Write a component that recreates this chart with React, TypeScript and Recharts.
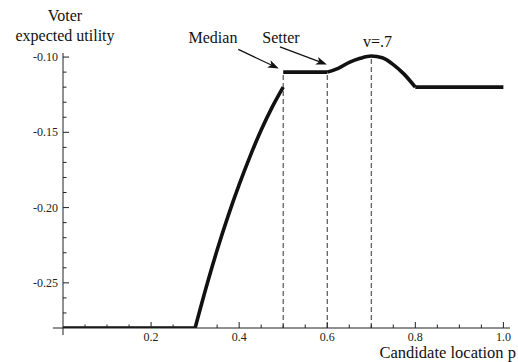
import React from 'react';
import { LineChart, Line, XAxis, YAxis, ReferenceLine, ReferenceDot } from 'recharts';

// ---- data ----
const lowFlatX = [0, 0.3];
const lowFlatY = [-0.28, -0.28];
const riseX = [0.3, 0.325, 0.35, 0.375, 0.4, 0.425, 0.45, 0.475, 0.5];
const riseY = [-0.28, -0.2531, -0.2282, -0.2055, -0.1848, -0.1658, -0.1485, -0.1333, -0.12];
const plateauX = [0.5, 0.6];
const plateauY = [-0.11, -0.11];
const bumpX = [0.6, 0.625, 0.65, 0.675, 0.7, 0.725, 0.75, 0.775, 0.8];
const bumpY = [-0.11, -0.1075, -0.1035, -0.1008, -0.0993, -0.1005, -0.105, -0.1115, -0.12];
const highFlatX = [0.8, 1.0];
const highFlatY = [-0.12, -0.12];

const guideX = [0.5, 0.6, 0.7];
const guideTop = [-0.11, -0.11, -0.0993];

const xMajorTicks = [0.2, 0.4, 0.6, 0.8, 1.0];
const xMajorLabels = ['0.2', '0.4', '0.6', '0.8', '1.0'];
const xMinorTicks = [0.05, 0.1, 0.15, 0.25, 0.3, 0.35, 0.45, 0.5, 0.55, 0.65, 0.7, 0.75, 0.85, 0.9, 0.95];
const yMajorTicks = [-0.25, -0.2, -0.15, -0.1];
const yMajorLabels = ['-0.25', '-0.20', '-0.15', '-0.10'];
const yMinorTicks = [-0.27, -0.26, -0.24, -0.23, -0.22, -0.21, -0.19, -0.18, -0.17, -0.16, -0.14, -0.13, -0.12, -0.11];

const annotationTexts = ['Median', 'Setter', 'v=.7'];
const annotationAt = [
  { x: 0.3405, y: -0.0907 },
  { x: 0.4949, y: -0.0907 },
  { x: 0.7139, y: -0.0932 },
];
const arrowSegments = [
  [{ x: 0.398, y: -0.0949 }, { x: 0.49, y: -0.1076 }],
  [{ x: 0.4926, y: -0.0932 }, { x: 0.5993, y: -0.105 }],
];

const X_DOMAIN: [number, number] = [0, 1.015];
const Y_DOMAIN: [number, number] = [-0.28, -0.0973];

const zip = (xs: number[], ys: number[]) => xs.map((x, i) => ({ x, y: ys[i] }));

const FONT = "'Liberation Serif', 'Times New Roman', serif";
const near = (a: number, b: number) => Math.abs(a - b) < 1e-9;

const XTick = (props: any) => {
  const { x, y, payload } = props;
  const v = payload.value as number;
  const mi = xMajorTicks.findIndex((t) => near(t, v));
  const major = mi >= 0;
  return (
    <g>
      <line x1={x} x2={x} y1={y} y2={y - (major ? 6 : 3.5)} stroke="#222" strokeWidth={1} />
      {major && (
        <text x={x} y={y + 13} textAnchor="middle" fontFamily={FONT} fontSize={12} fill="#222">
          {xMajorLabels[mi]}
        </text>
      )}
    </g>
  );
};

const YTick = (props: any) => {
  const { x, y, payload } = props;
  const v = payload.value as number;
  const mi = yMajorTicks.findIndex((t) => near(t, v));
  const major = mi >= 0;
  return (
    <g>
      <line x1={x} x2={x + (major ? 6 : 3.5)} y1={y} y2={y} stroke="#222" strokeWidth={1} />
      {major && (
        <text x={x - 5} y={y + 4} textAnchor="end" fontFamily={FONT} fontSize={12} fill="#222">
          {yMajorLabels[mi]}
        </text>
      )}
    </g>
  );
};

const Arrow = (p: any) => {
  const { x1, y1, x2, y2 } = p;
  const ang = Math.atan2(y2 - y1, x2 - x1);
  const L = 11;
  const W = 4;
  const bx = x2 - L * Math.cos(ang);
  const by = y2 - L * Math.sin(ang);
  const px = -Math.sin(ang) * W;
  const py = Math.cos(ang) * W;
  const nx = x2 - L * 0.75 * Math.cos(ang);
  const ny = y2 - L * 0.75 * Math.sin(ang);
  return (
    <g>
      <line x1={x1} y1={y1} x2={nx} y2={ny} stroke="#111" strokeWidth={1.2} />
      <polygon points={`${x2},${y2} ${bx + px},${by + py} ${nx},${ny} ${bx - px},${by - py}`} fill="#111" />
    </g>
  );
};

const makeTextShape = (label: string) => (p: any) => (
  <text x={p.cx} y={p.cy} textAnchor="middle" fontFamily={FONT} fontSize={16} fill="#111">
    {label}
  </text>
);

export default function App() {
  const allXTicks = [...xMinorTicks, ...xMajorTicks].sort((a, b) => a - b);
  const allYTicks = [...yMinorTicks, ...yMajorTicks].sort((a, b) => a - b);
  const curveStyle = { stroke: '#111', strokeWidth: 3.6, dot: false as const, isAnimationActive: false };
  return (
    <div style={{ position: 'absolute', left: 0, top: 0, width: 518, height: 362, background: '#fff' }}>
      <LineChart width={518} height={362} margin={{ top: 53, right: 8, left: 0, bottom: 0 }}>
        <XAxis
          type="number"
          dataKey="x"
          domain={X_DOMAIN}
          ticks={allXTicks}
          interval={0}
          height={34}
          tickSize={0}
          tickMargin={0}
          tickLine={false}
          tick={<XTick />}
          axisLine={{ stroke: '#222', strokeWidth: 1 }}
          allowDataOverflow
        />
        <YAxis
          type="number"
          dataKey="y"
          domain={Y_DOMAIN}
          ticks={allYTicks}
          interval={0}
          width={63}
          tickSize={0}
          tickMargin={0}
          tickLine={false}
          tick={<YTick />}
          axisLine={{ stroke: '#222', strokeWidth: 1 }}
          allowDataOverflow
        />
        <ReferenceLine
          segment={[{ x: -0.023, y: -0.28 }, { x: 0, y: -0.28 }]}
          ifOverflow="visible"
          stroke="#222"
          strokeWidth={1}
        />
        <ReferenceLine
          segment={[{ x: 0, y: -0.28 }, { x: 0, y: -0.2847 }]}
          ifOverflow="visible"
          stroke="#222"
          strokeWidth={1}
        />
        {guideX.map((gx, i) => (
          <ReferenceLine
            key={'g' + i}
            segment={[{ x: gx, y: -0.28 }, { x: gx, y: guideTop[i] }]}
            ifOverflow="visible"
            stroke="#333"
            strokeWidth={1}
            strokeDasharray="5 3"
          />
        ))}
        <Line data={zip(lowFlatX, lowFlatY)} dataKey="y" type="linear" {...curveStyle} />
        <Line data={zip(riseX, riseY)} dataKey="y" type="monotone" {...curveStyle} />
        <Line data={zip(plateauX, plateauY)} dataKey="y" type="linear" {...curveStyle} />
        <Line data={zip(bumpX, bumpY)} dataKey="y" type="monotone" {...curveStyle} />
        <Line data={zip(highFlatX, highFlatY)} dataKey="y" type="linear" {...curveStyle} />
        {arrowSegments.map((seg, i) => (
          <ReferenceLine key={'a' + i} segment={seg} ifOverflow="visible" shape={Arrow} />
        ))}
        {annotationTexts.map((t, i) => (
          <ReferenceDot
            key={'t' + i}
            x={annotationAt[i].x}
            y={annotationAt[i].y}
            r={0}
            ifOverflow="visible"
            shape={makeTextShape(t)}
          />
        ))}
      </LineChart>
      <svg
        width={518}
        height={362}
        style={{ position: 'absolute', left: 0, top: 0, pointerEvents: 'none' }}
      >
        <text x={65} y={20.5} textAnchor="middle" fontFamily={FONT} fontSize={16} fill="#111">
          Voter
        </text>
        <text x={65} y={40.5} textAnchor="middle" fontFamily={FONT} fontSize={16} fill="#111">
          expected utility
        </text>
        <text x={516} y={358} textAnchor="end" fontFamily={FONT} fontSize={16.5} fill="#111">
          Candidate location p
        </text>
      </svg>
    </div>
  );
}
